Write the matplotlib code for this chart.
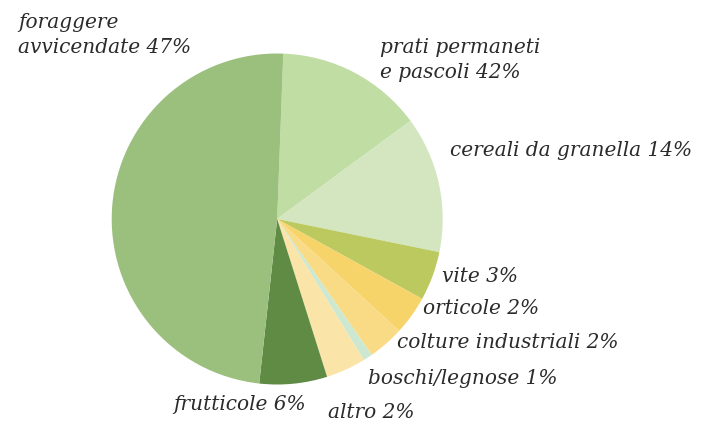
import matplotlib.pyplot as plt

# categorie e valori (quota visiva delle fette, in senso orario da ore 12)
categorie = ["prati permaneti\ne pascoli", "cereali da granella", "vite", "orticole",
             "colture industriali", "boschi/legnose", "altro", "frutticole",
             "foraggere\navvicendate"]
quote = [14.3, 13.3, 4.8, 3.8, 3.5, 0.9, 3.9, 6.6, 48.8]
etichette_pct = ["42%", "14%", "3%", "2%", "2%", "1%", "2%", "6%", "47%"]
colori = ["#c0dda4", "#d3e6c0", "#bcc95e", "#f7d46a", "#f9da85", "#cde8d0",
          "#fae4a8", "#5f8b45", "#9bbf7d"]

# posizione etichette (pixel, origine in alto a sinistra)
pos_etichette = [(380, 60), (450, 150), (442, 277), (423, 309), (397, 342),
                 (368, 378), (328, 412), (173, 404), (18, 35)]

W, H = 703, 426

if __name__ == "__main__":
    fig = plt.figure(figsize=(W / 100, H / 100), dpi=100)
    ax = fig.add_axes([0, 0, 1, 1])
    ax.set_xlim(0, W)
    ax.set_ylim(0, H)
    ax.set_aspect("equal")
    ax.axis("off")

    ax.pie(quote, colors=colori, startangle=87.9, counterclock=False,
           center=(277.2, H - 219), radius=165.5,
           wedgeprops=dict(linewidth=0))

    for cat, pct, (x, y) in zip(categorie, etichette_pct, pos_etichette):
        ax.text(x, H - y, f"{cat} {pct}", ha="left", va="center",
                fontsize=14.5, family="DejaVu Serif", style="italic",
                color="#2b2b2b", linespacing=1.4)

    ax.set_xlim(0, W)
    ax.set_ylim(0, H)
    fig.savefig("out.png", dpi=100)
